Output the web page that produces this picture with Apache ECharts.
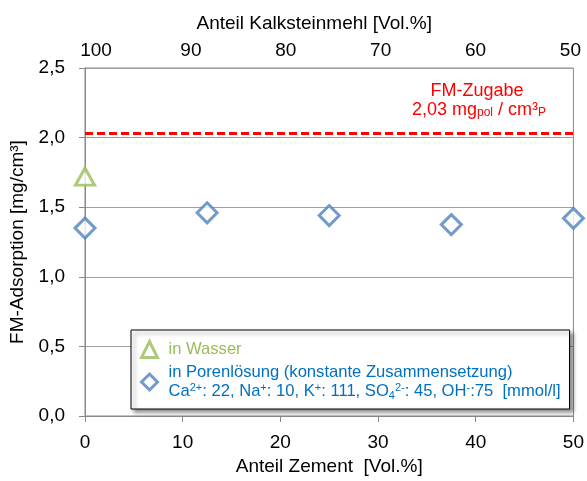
<!DOCTYPE html>
<html><head><meta charset="utf-8">
<script src="https://cdn.jsdelivr.net/npm/echarts@6/dist/echarts.min.js"></script>
<style>html,body{margin:0;padding:0;background:#fff}#c{width:587px;height:481px}</style>
</head><body><div id="c"></div>
<script>
const zementX = [0, 12.5, 25, 37.5, 50];
const porenY = [1.35, 1.46, 1.44, 1.375, 1.42];
const wasserX = [0];
const wasserY = [1.72];
const fmZugabe = 2.03;
const topTicks = [100, 90, 80, 70, 60, 50];

const F = 'Liberation Sans, Arial, sans-serif';
const chart = echarts.init(document.getElementById('c'));
const blue = '#4F81BD', green = '#9BBB59', txtBlue = '#0070C0';
const LF = 16.6;
const supS = {fontSize: 11, verticalAlign: 'top', color: txtBlue, fontFamily: F, lineHeight: 19};
const subS = {fontSize: 11, verticalAlign: 'bottom', color: txtBlue, fontFamily: F, lineHeight: 19};
chart.setOption({
  animation: false,
  grid: {left: 85, right: 13, top: 68, bottom: 63, show: true, borderColor: '#898989', borderWidth: 1},
  xAxis: [
    {type: 'value', min: 0, max: 50, interval: 10, position: 'bottom',
     name: 'Anteil Zement  [Vol.%]', nameLocation: 'middle', nameGap: 41,
     nameTextStyle: {fontSize: 19, color: '#000', fontFamily: F},
     axisLine: {show: true, lineStyle: {color: '#898989'}},
     axisTick: {show: true, length: 6, lineStyle: {color: '#898989'}},
     axisLabel: {fontSize: 19, color: '#000', fontFamily: F, margin: 17},
     splitLine: {show: false}},
    {type: 'value', min: 49.68, max: 101.16, inverse: true, position: 'top',
     name: 'Anteil Kalksteinmehl [Vol.%]', nameLocation: 'middle', nameGap: 35,
     nameTextStyle: {fontSize: 19, color: '#000', fontFamily: F, padding: [0, 30, 0, 0]},
     axisLine: {show: false}, axisTick: {show: false},
     axisLabel: {fontSize: 19, color: '#000', fontFamily: F, margin: 8, customValues: topTicks},
     splitLine: {show: false}}
  ],
  yAxis: {type: 'value', min: 0, max: 2.5, interval: 0.5,
    name: 'FM-Adsorption [mg/cm³]', nameLocation: 'middle', nameGap: 55,
    nameTextStyle: {fontSize: 19, color: '#000', fontFamily: F},
    axisLine: {show: true, lineStyle: {color: '#898989'}},
    axisTick: {show: true, length: 6, lineStyle: {color: '#898989'}},
    axisLabel: {fontSize: 19, color: '#000', fontFamily: F, margin: 20,
      formatter: v => v.toFixed(1).replace('.', ',')},
    splitLine: {show: true, lineStyle: {color: '#A0A0A0', width: 1}}},
  legend: {
    orient: 'vertical', left: 131, top: 330,
    backgroundColor: '#fff', borderColor: '#000', borderWidth: 1,
    padding: [10, 9, 8, 9], itemGap: 5, itemWidth: 16, itemHeight: 16,
    symbolKeepAspect: true,
    itemStyle: {borderWidth: 3},
    shadowColor: 'rgba(0,0,0,0.45)', shadowBlur: 4, shadowOffsetX: 3, shadowOffsetY: 3,
    data: [
      {name: 'in Wasser', icon: 'triangle', textStyle: {color: green}},
      {name: 'in Porenlösung', icon: 'diamond', textStyle: {color: txtBlue}}
    ],
    formatter: function (n) {
      if (n === 'in Wasser') return '{g|in Wasser}';
      return '{b0|in Porenlösung (konstante Zusammensetzung)}\n' +
        '{b0|Ca}{sp|2+}{b|: 22, Na}{sp|+}{b|: 10, K}{sp|+}{b|: 111, SO}{sb|4}{sp|2-}{b|: 45, OH}{sp|-}{b|:75  [mmol/l]}';
    },
    textStyle: {fontFamily: F, fontSize: LF, rich: {
      g: {color: green, fontSize: LF, fontFamily: F, lineHeight: 20, padding: [0, 0, 0, 6]},
      b0: {color: txtBlue, fontSize: LF, fontFamily: F, lineHeight: 19, padding: [0, 0, 0, 6]},
      b: {color: txtBlue, fontSize: LF, fontFamily: F, lineHeight: 19},
      sp: supS, sb: subS
    }}
  },
  graphic: [
    {type: 'text', x: 477, y: 82, style: {text: 'FM-Zugabe', fill: '#FF0000', font: '18px ' + F, align: 'center'}},
    {type: 'text', x: 479, y: 99, style: {
      text: '{a|2,03 mg}{s|pol}{a| / cm³}{s|P}', align: 'center',
      rich: {a: {fill: '#FF0000', fontSize: 18, fontFamily: F, lineHeight: 20, verticalAlign: 'bottom'},
             s: {fill: '#FF0000', fontSize: 12, fontFamily: F, lineHeight: 20, verticalAlign: 'bottom'}}}}
  ],
  series: [
    {name: 'in Porenlösung', type: 'scatter', xAxisIndex: 0, symbol: 'diamond', symbolSize: 20,
     itemStyle: {color: '#fff', borderColor: blue, borderWidth: 3},
     data: zementX.map((x, i) => [x, porenY[i]]), z: 3,
     markLine: {silent: true, symbol: 'none', label: {show: false},
       lineStyle: {color: '#FF0000', type: [8, 4], width: 3},
       data: [{yAxis: fmZugabe}]}},
    {name: 'in Wasser', type: 'scatter', xAxisIndex: 0, symbol: 'triangle', symbolSize: [19, 17],
     itemStyle: {color: '#fff', borderColor: green, borderWidth: 3},
     data: wasserX.map((x, i) => [x, wasserY[i]]), z: 3}
  ]
});
</script></body></html>
